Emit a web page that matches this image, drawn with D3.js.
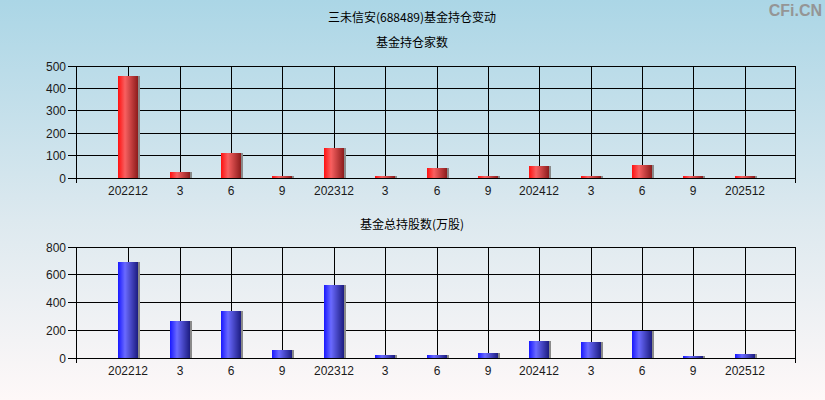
<!DOCTYPE html>
<html><head><meta charset="utf-8">
<script src="https://cdn.jsdelivr.net/npm/d3@7"></script>
<style>html,body{margin:0;padding:0;}svg{display:block;}</style>
</head><body>
<script>
const categories = ["202212","3","6","9","202312","3","6","9","202412","3","6","9","202512"];
const fundCount = [455,27,112,8,134,8,45,8,55,8,58,8,8];
const fundShares = [694,269,341,60,528,24,24,38,125,117,192,17,31];
const countTicks = [0,100,200,300,400,500];
const sharesTicks = [0,200,400,600,800];

const W=825,H=400;
const svg=d3.select("body").append("svg").attr("width",W).attr("height",H);
const defs=svg.append("defs");
const bg=defs.append("linearGradient").attr("id","bg").attr("x1",0).attr("y1",0).attr("x2",0).attr("y2",1);
bg.append("stop").attr("offset","0%").attr("stop-color","#abd6e6");
bg.append("stop").attr("offset","55%").attr("stop-color","#dde9ef");
bg.append("stop").attr("offset","100%").attr("stop-color","#fef8f8");
function barGrad(id,c0,c1,c2){
  const g=defs.append("linearGradient").attr("id",id).attr("x1",0).attr("y1",0).attr("x2",1).attr("y2",0);
  g.append("stop").attr("offset","0%").attr("stop-color",c0);
  g.append("stop").attr("offset","35%").attr("stop-color",c1);
  g.append("stop").attr("offset","100%").attr("stop-color",c2);
}
barGrad("red","#ff1010","#f86060","#8c1c1c");
barGrad("blue","#1818ff","#6a6aff","#1c1c80");
svg.append("rect").attr("width",W).attr("height",H).attr("fill","url(#bg)");

const font="'Liberation Sans', Arial, sans-serif";
const cjk="'Noto Sans CJK SC', sans-serif";
svg.append("text").attr("x",412).attr("y",22).attr("text-anchor","middle").attr("font-family",cjk).attr("font-size",12).attr("fill","#000").text("三未信安(688489)基金持仓变动");
svg.append("text").attr("x",822).attr("y",16).attr("text-anchor","end").attr("font-family",font).attr("font-weight","bold").attr("font-size",16).attr("fill","#959595").text("CFi.CN");

const x=d3.scaleLinear().domain([0,14]).range([76,795]);

function chart(title,titleY,top,bottom,data,ticks,maxV,grad){
  svg.append("text").attr("x",412).attr("y",titleY).attr("text-anchor","middle").attr("font-family",cjk).attr("font-size",12).attr("fill","#000").text(title);
  const y=d3.scaleLinear().domain([0,maxV]).range([bottom,top]);
  const g=svg.append("g");
  const cx=i=>Math.round(x(i+1))+1;
  g.selectAll(".hg").data(ticks).join("line").attr("x1",68).attr("x2",795).attr("y1",d=>y(d)).attr("y2",d=>y(d)).attr("stroke","#000").attr("stroke-width",1).attr("shape-rendering","crispEdges");
  g.selectAll(".vg").data(categories).join("line").attr("x1",(d,i)=>cx(i)).attr("x2",(d,i)=>cx(i)).attr("y1",top).attr("y2",bottom).attr("stroke","#000").attr("shape-rendering","crispEdges");
  g.append("line").attr("x1",76).attr("x2",76).attr("y1",top).attr("y2",bottom+5).attr("stroke","#000").attr("shape-rendering","crispEdges");
  g.append("line").attr("x1",795).attr("x2",795).attr("y1",top).attr("y2",bottom+5).attr("stroke","#000").attr("shape-rendering","crispEdges");
  const bw=20;
  g.selectAll(".sh").data(data).join("rect").attr("x",(d,i)=>cx(i)-10+bw).attr("width",2).attr("y",d=>Math.round(y(d))).attr("height",d=>bottom-Math.round(y(d))).attr("fill","#8a8a8a");
  g.selectAll(".bar").data(data).join("rect").attr("x",(d,i)=>cx(i)-10).attr("width",bw).attr("y",d=>Math.round(y(d))).attr("height",d=>bottom-Math.round(y(d))).attr("fill",`url(#${grad})`);
  g.append("line").attr("x1",68).attr("x2",795).attr("y1",bottom).attr("y2",bottom).attr("stroke","#000").attr("shape-rendering","crispEdges");
  g.selectAll(".yl").data(ticks).join("text").attr("x",66).attr("y",d=>y(d)+4.5).attr("text-anchor","end").attr("font-family",font).attr("font-size",12).attr("fill","#1a1a1a").text(d=>d);
  g.selectAll(".xl").data(categories).join("text").attr("x",(d,i)=>cx(i)).attr("y",bottom+17).attr("text-anchor","middle").attr("font-family",font).attr("font-size",12).attr("fill","#1a1a1a").text(d=>d);
}
chart("基金持仓家数",47,66,178,fundCount,countTicks,500,"red");
chart("基金总持股数(万股)",229,247,358,fundShares,sharesTicks,800,"blue");
</script>
</body></html>
